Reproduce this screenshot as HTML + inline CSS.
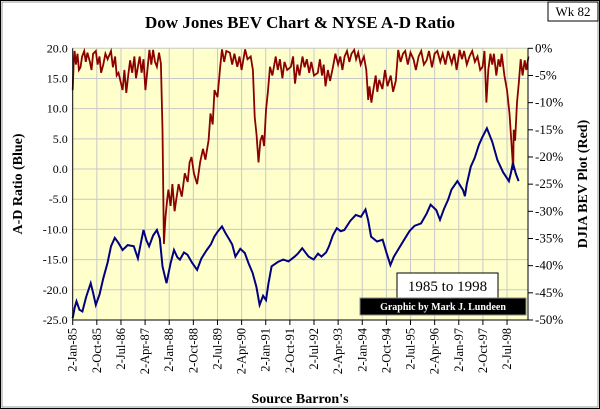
<!DOCTYPE html>
<html><head><meta charset="utf-8"><style>
body{margin:0;background:#fff}
svg{display:block}
text{font-family:"Liberation Serif",serif;fill:#000}
</style></head><body>
<svg width="600" height="409" viewBox="0 0 600 409">
<rect x="0.5" y="0.5" width="599" height="408" fill="#fff" stroke="#000"/>
<rect x="2" y="2" width="596" height="405" fill="none" stroke="#999"/>
<rect x="548" y="2" width="50" height="19" fill="#fff" stroke="#000"/>
<text x="573" y="16" font-size="13" text-anchor="middle">Wk 82</text>
<text x="300" y="28" font-size="17" font-weight="bold" text-anchor="middle">Dow Jones BEV Chart &amp; NYSE A-D Ratio</text>
<rect x="72.7" y="48.3" width="455.3" height="271.7" fill="#ffffcc"/>
<g id="grid"></g>
<g id="series"></g>
<line x1="72.7" y1="48.3" x2="72.7" y2="320" stroke="#000"/>
<line x1="528" y1="48.3" x2="528" y2="320" stroke="#000"/>
<line x1="72.7" y1="320" x2="528" y2="320" stroke="#000"/>
<g id="axes"></g>
<rect x="397" y="273" width="101" height="25" fill="#fff" stroke="#000"/>
<text x="447.5" y="291" font-size="15" text-anchor="middle">1985 to 1998</text>
<rect x="360" y="298" width="166" height="17" fill="#000" stroke="#888"/>
<text x="443" y="310" font-size="10" font-weight="bold" text-anchor="middle" style="fill:#fff">Graphic by Mark J. Lundeen</text>
<text transform="translate(22,184) rotate(-90)" font-size="14" font-weight="bold" text-anchor="middle">A-D Ratio (Blue)</text>
<text transform="translate(587,184) rotate(-90)" font-size="14" font-weight="bold" text-anchor="middle">DJIA BEV Plot (Red)</text>
<text x="300" y="403" font-size="14" font-weight="bold" text-anchor="middle">Source Barron's</text>
</svg>
<script>
const xTickLabels=["2-Jan-85","2-Oct-85","2-Jul-86","2-Apr-87","2-Jan-88","2-Oct-88","2-Jul-89","2-Apr-90","2-Jan-91","2-Oct-91","2-Jul-92","2-Apr-93","2-Jan-94","2-Oct-94","2-Jul-95","2-Apr-96","2-Jan-97","2-Oct-97","2-Jul-98"];
const leftTicks=[20,15,10,5,0,-5,-10,-15,-20,-25];
const rightTicks=[0,-5,-10,-15,-20,-25,-30,-35,-40,-45,-50];
const adMonths=[0,0.7,1.4,2.5,3.6,5,6.7,7.6,8.6,10,11.4,13,14.3,15.7,17,18.6,20.5,22.8,24.3,25.4,26.4,27.5,28.5,30,31.4,32.5,33.5,35,36.5,37.8,39,40,41.5,42.8,44.5,46.4,48,50,51.5,52.8,54,55.7,57,58.5,59.5,60.7,62.5,64.2,65.5,67.1,68.5,69.7,71,72.1,73,74.2,76.5,78.5,80.5,82.8,84,85.6,88,89.9,91.5,92.8,94.5,95.6,97,98.5,100,101.3,103.5,105.6,107.5,109.2,110.2,111.3,113.5,115.6,117,118.5,119.8,121.3,123.5,125.6,127.5,129.9,132,133.5,135.6,137,138.5,140,141.3,143.5,145.6,146.3,147,148.5,149.9,151.5,152.7,154.5,156.5,158.4,160.5,162.7,163.5,164.2,165.3,166.3,168,169.9];
const adValues=[-24.7,-23,-21.9,-23.3,-23.6,-21.2,-18.9,-20.5,-22.5,-20.8,-18.1,-15.5,-12.8,-11.4,-12.2,-13.4,-12.6,-12.8,-14.8,-12.3,-10.1,-11.8,-12.8,-11,-10.1,-11.5,-16.1,-18.9,-15.6,-13.4,-14.6,-15.0,-13.8,-14.2,-15.5,-16.7,-14.8,-13.4,-12.5,-11.2,-10.4,-9.5,-10.6,-11.7,-12.5,-14.5,-13.2,-13.9,-15.5,-17.2,-19.5,-22.5,-21,-21.7,-19,-16.1,-15.4,-15.0,-15.3,-14.5,-14,-13.1,-14.5,-15.0,-14,-14.5,-13.8,-12.8,-11,-9.8,-10.3,-10.1,-8.6,-7.6,-7.9,-6.7,-8.5,-11.2,-12,-11.7,-13.8,-15.9,-14.5,-13.4,-11.8,-10.3,-9.4,-9.0,-7.4,-5.9,-6.8,-8.4,-6.6,-5.1,-3.4,-2.0,-3.5,-4.5,-2.5,0.4,1.8,4.0,5.2,6.75,4.5,1.5,-0.5,-2.0,-0.5,1.0,-0.8,-2.0];
const bevMonths=[0,0.4,0.7,1.2,1.8,2.3,2.9,3.5,4.3,4.9,5.5,6.4,7,7.6,8.6,9.3,10,10.6,11.4,12.2,13,14.3,15,15.8,16.4,17.1,18.6,19.3,20,20.7,21.4,22.2,23,23.6,24.3,25,25.7,26.4,27.1,28.6,29.3,30,30.7,31.4,32.2,32.9,33.5,34,34.6,35.2,35.7,36.5,37.2,38,38.6,39.5,40.7,41.8,42.9,43.6,44.3,45.2,46.4,47.5,48.6,49.5,50.7,51.4,52.2,52.9,54,55,55.7,56.5,57.3,58.6,59.5,60.3,61.4,62.2,63,64.3,65.2,66.4,67.2,67.9,68.6,69.3,70,70.7,71.4,72.1,72.8,73.6,74.5,75.7,76.5,77.3,78.2,79,80,81.4,82.2,82.9,83.8,84.6,85.7,86.5,87.3,88.2,89,90,91.4,92.2,93,93.6,94.3,95.2,96,97.1,98,99,99.8,100.6,101.4,102.3,103.2,104,105,105.7,106.5,107.4,108.6,109.5,110.2,110.7,111.4,112.1,113,113.6,114.3,115.5,116.5,117.4,118.6,119.5,120.5,121.4,122.3,123.2,124,125,126,127.1,128,129,130,131,132,132.9,134,135,136,137.1,138,139,140,141.4,142.3,143.2,144.3,145.2,146,147,148,149,150,151,152,152.9,153.6,154.3,155,155.8,156.5,157.1,158,158.8,159.5,160,161,162,162.9,163.6,164.3,164.5,165,165.7,166.4,167.1,167.8,168.6,169.2,170];
const bevValues=[-7.7,-2,-0.5,-3,-1,-4,-3.5,-1.5,-0.5,-2.5,-0.8,-2.5,-4,-1,-0.5,-3,-1.5,-4.5,-3,-1,-2,-0.5,-3.5,-1.5,-5,-4.5,-7.7,-4,-8.2,-5,-2.2,-4.5,-1.5,-5.5,-3.4,-1.5,-4.5,-2,-7.7,-0.3,-3,-0.3,-2.5,-3.4,-0.8,-2.8,-15,-36,-31,-28,-26,-29,-25,-30,-27.9,-25,-27.3,-23,-24.6,-21,-20,-23,-25,-21,-18.5,-20.5,-16.9,-12,-14,-7.7,-9,-3.4,-0.2,-2.5,-0.5,-0.8,-3,-1,-3.4,-1.5,-4,-0.2,-2,-1.5,-4,-12.6,-16,-21,-17,-16,-18,-11.4,-8,-3.4,-5,-1.5,-4,-2,-5.5,-2.5,-4,-3.4,-1.5,-6.5,-3,-5,-1.5,-3.5,-2,-4.5,-2.5,-5,-4.5,-2,-5,-3,-7,-4,-6,-3.4,-1,-3,-1.5,-4,-1.5,-0.5,-2.5,-1,-0.3,-2,-0.8,-3,-1.5,-4,-9.5,-7,-10,-7.7,-5,-8,-5.8,-7.5,-4,-7,-5,-8,-6,-0.3,-2.5,-1,-0.5,-3,-0.8,-2,-4,-1.5,-0.5,-3,-2.2,-0.5,-3.5,-1,-0.5,-2.5,-1,-3,-0.5,-2.8,-1,-4,-0.3,-2,-0.5,-3,-1.5,-0.5,-2.5,-1.5,-4,-3.4,-0.5,-10,-4,-1,-3,-1,-5,-2,-3.4,-1,-5,-7.7,-12,-17,-22.4,-15,-17,-10,-6.4,-2,-5,-2.2,-4,-1.5];
const NS="http://www.w3.org/2000/svg";
const L=72.7,R=528,T=48.3,B=320;
const xS=m=>L+m*(24.13/9);
const yL=v=>T+(20-v)*(B-T)/45;
const yR=p=>T+(0-p)*(B-T)/50;
function mk(tag,attrs,parent){const e=document.createElementNS(NS,tag);for(const k in attrs)e.setAttribute(k,attrs[k]);document.getElementById(parent).appendChild(e);return e;}
xTickLabels.forEach((lab,i)=>{const x=xS(i*9);
 if(i>0){const g=mk('line',{x1:x,x2:x,y1:T,y2:B,stroke:'#c8c8c8'},'grid');
 
 }
 const t=mk('line',{x1:x,x2:x,y1:B,y2:B+5,stroke:'#000'},'axes');
 
 
 const tx=mk('text',{transform:`translate(${x+4},${B+8}) rotate(-90)`,'font-size':'12.5','text-anchor':'end'},'axes');
 tx.textContent=lab;
 
 });
leftTicks.forEach(v=>{const y=yL(v);
 const g=mk('line',{x1:L,x2:R,y1:y,y2:y,stroke:'#c8c8c8'},'grid');
 
 
 const t=mk('text',{x:L-5,y:y+4,'font-size':'12','text-anchor':'end'},'axes');
 t.textContent=v.toFixed(1);
 
 });
rightTicks.forEach(p=>{const y=yR(p);
 const l=mk('line',{x1:R,x2:R+5,y1:y,y2:y,stroke:'#000'},'axes');
 
 
 const t=mk('text',{x:R+7,y:y+4,'font-size':'13'},'axes');
 t.textContent=p+'%';
 
 });
const red=mk('path',{d:bevMonths.map((m,i)=>(i?'L':'M')+xS(m).toFixed(1)+','+yR(bevValues[i]).toFixed(1)).join(''),fill:'none',stroke:'#8b0000','stroke-width':'1.8'},'series');


const blue=mk('path',{d:adMonths.map((m,i)=>(i?'L':'M')+xS(m).toFixed(1)+','+yL(adValues[i]).toFixed(1)).join(''),fill:'none',stroke:'#000080','stroke-width':'2'},'series');


</script>
</body></html>
